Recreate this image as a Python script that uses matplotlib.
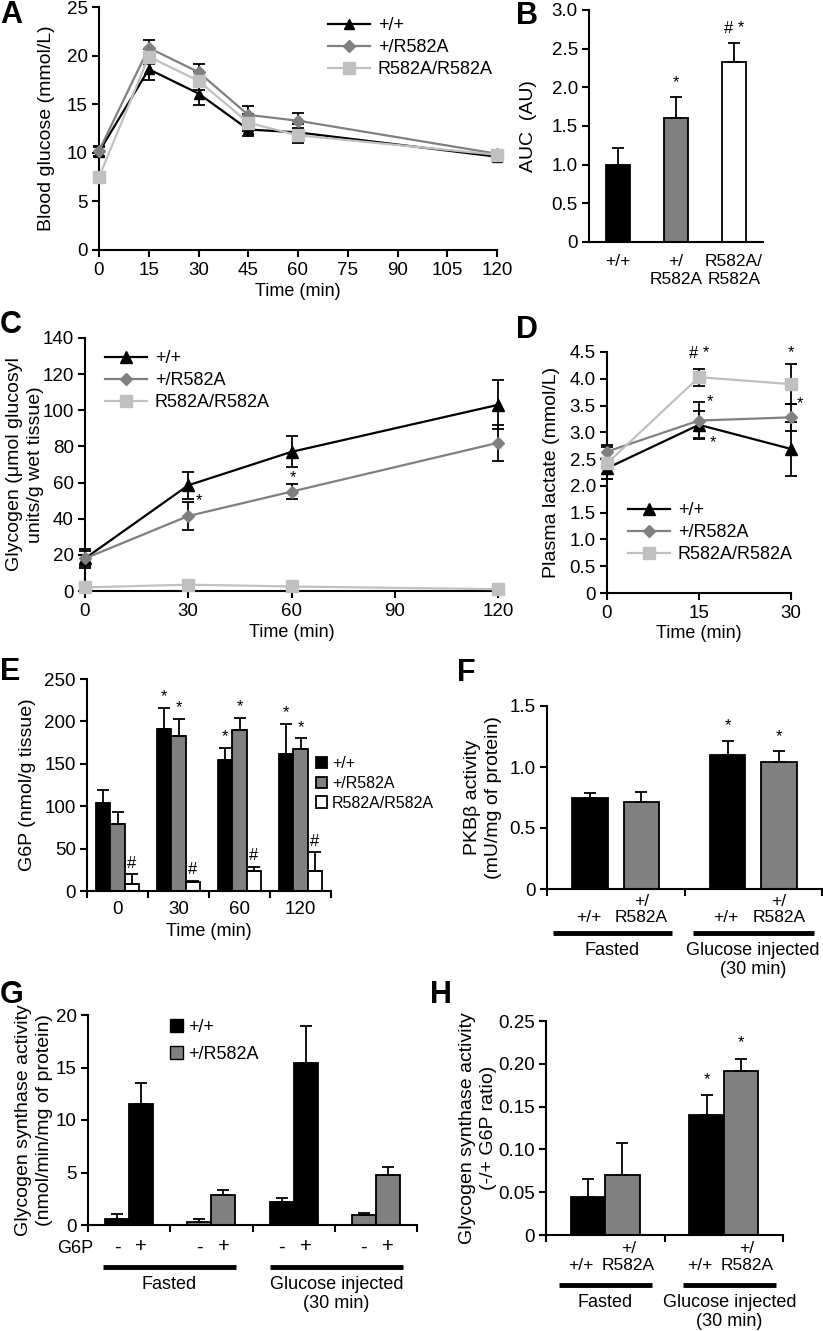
import numpy as np
import matplotlib
matplotlib.use("Agg")
import matplotlib.pyplot as plt
from matplotlib.patches import Patch

W, H = 823, 1331
BLACK = "#000000"
GRAY = "#808080"
LIGHT = "#c0c0c0"
TICK_FS = 13.5
XLAB_FS = 13
YLAB_FS = 14
LEG_FS = 13
CAT_FS = 12.5

GENOTYPES = ["+/+", "+/R582A", "R582A/R582A"]

# A: blood glucose during GTT
A_TIME = [0, 15, 30, 45, 60, 120]
A_WT = [10.1, 18.6, 16.1, 12.4, 12.1, 9.6]
A_WT_ERR = [0.5, 1.1, 1.2, 0.7, 0.9, 0.4]
A_HET = [10.2, 20.8, 18.3, 13.9, 13.3, 9.9]
A_HET_ERR = [0.5, 0.8, 0.8, 0.9, 0.8, 0.4]
A_HOM = [7.5, 19.9, 17.4, 13.1, 11.8, 9.8]
A_HOM_ERR = [0.4, 0.8, 0.9, 0.9, 0.8, 0.4]

# B: AUC
B_LABELS = ["+/+", "+/\nR582A", "R582A/\nR582A"]
B_AUC = [1.0, 1.6, 2.33]
B_ERR = [0.22, 0.27, 0.24]
B_MARKS = ["", "*", "# *"]

# C: glycogen
C_TIME = [0, 30, 60, 120]
C_WT = [18, 58.5, 77, 103]
C_WT_ERR = [5, 7.5, 8.5, 13.5]
C_HET = [18, 41.5, 55, 82]
C_HET_ERR = [4, 8, 4, 10]
C_HOM = [2, 3.5, 2.5, 1]
C_HOM_ERR = [1, 1, 1, 1]

# D: plasma lactate
D_TIME = [0, 15, 30]
D_WT = [2.33, 3.14, 2.69]
D_WT_ERR = [0.2, 0.25, 0.5]
D_HET = [2.64, 3.22, 3.28]
D_HET_ERR = [0.12, 0.35, 0.25]
D_HOM = [2.42, 4.03, 3.9]
D_HOM_ERR = [0.3, 0.16, 0.37]

# E: G6P
E_TIME = ["0", "30", "60", "120"]
E_WT = [104, 191, 154, 161]
E_WT_ERR = [15, 25, 15, 36]
E_HET = [79, 183, 190, 167]
E_HET_ERR = [14, 20, 14, 13]
E_HOM = [8.5, 11, 24, 24]
E_HOM_ERR = [11, 1, 4.5, 22]

# F: PKB beta activity
CONDITIONS = ["Fasted", "Glucose injected\n(30 min)"]
F_WT = [0.745, 1.10]
F_WT_ERR = [0.04, 0.115]
F_HET = [0.715, 1.04]
F_HET_ERR = [0.08, 0.09]
F_MARKS_WT = ["", "*"]
F_MARKS_HET = ["", "*"]

# G: glycogen synthase activity -/+ G6P
G_GROUP_GENO = ["+/+", "+/R582A", "+/+", "+/R582A"]
G_MINUS = [0.55, 0.25, 2.15, 0.95]
G_MINUS_ERR = [0.5, 0.3, 0.4, 0.2]
G_PLUS = [11.5, 2.85, 15.4, 4.8]
G_PLUS_ERR = [2.0, 0.45, 3.6, 0.7]

# H: activity ratio
H_WT = [0.044, 0.14]
H_WT_ERR = [0.021, 0.023]
H_HET = [0.07, 0.192]
H_HET_ERR = [0.037, 0.014]
H_MARKS = ["", "*"]

plt.rcParams["font.family"] = ["Liberation Sans", "DejaVu Sans"]
plt.rcParams["font.size"] = TICK_FS
plt.rcParams["axes.linewidth"] = 1.5

fig = plt.figure(figsize=(W / 100, H / 100), dpi=100)


def add_ax(l, t, r, b):
    ax = fig.add_axes([l / W, 1 - b / H, (r - l) / W, (b - t) / H])
    ax.spines[["top", "right"]].set_visible(False)
    ax.tick_params(direction="out", length=5, width=1.5, labelsize=TICK_FS)
    ax.tick_params(axis="y", pad=3)
    return ax


def ylab(ax, text, right_px, l, r):
    ax.set_ylabel(text, fontsize=YLAB_FS, multialignment="center", linespacing=1.3)
    ax.yaxis.set_label_coords((right_px - l) / (r - l), 0.5)


def letter(x, y, s):
    fig.text(x / W, 1 - y / H, s, fontsize=22, fontweight="bold", va="top", ha="left")


def noclip(container):
    for art in container.get_children():
        art.set_clip_on(False)


def line_series(ax, x, y, err, color, marker, ms, label):
    eb = ax.errorbar(x, y, yerr=err, fmt="none", ecolor=BLACK, elinewidth=1.3,
                     capsize=4, capthick=1.3, zorder=2)
    noclip(eb)
    ax.plot(x, y, color=color, marker=marker, ms=ms, lw=1.6, label=label,
            clip_on=False, zorder=3)


def line_legend(ax, x, y):
    ax.legend(loc="upper left", bbox_to_anchor=(x / W, 1 - y / H),
              bbox_transform=fig.transFigure, frameon=False, fontsize=LEG_FS,
              handlelength=2.3, handletextpad=0.45, labelspacing=0.28,
              borderpad=0, borderaxespad=0)


def up_bars(ax, x, h, err, w, color, **kw):
    return ax.bar(x, h, w, color=color, edgecolor=BLACK, linewidth=1.3,
                  yerr=[np.zeros(len(err)), err], capsize=4,
                  error_kw=dict(elinewidth=1.3, capthick=1.3), zorder=2, **kw)


def group_lines(ax, spans, y, texts, ty):
    tr = ax.get_xaxis_transform()
    for (x0, x1), t in zip(spans, texts):
        ax.plot([x0, x1], [y, y], color=BLACK, lw=3.5, transform=tr, clip_on=False,
                solid_capstyle="butt")
        ax.text((x0 + x1) / 2, ty, t, transform=tr, ha="center", va="top",
                fontsize=XLAB_FS, linespacing=1.15)


def cat_labels(ax, xs, labels, y):
    tr = ax.get_xaxis_transform()
    for xi, s in zip(xs, labels):
        ax.text(xi, y, s, transform=tr, ha="center", va="top", fontsize=CAT_FS,
                linespacing=1.1)


# ---------------- A ----------------
l, t, r, b = 99, 7, 497, 250
ax = add_ax(l, t, r, b)
line_series(ax, A_TIME, A_WT, A_WT_ERR, BLACK, "^", 7, GENOTYPES[0])
line_series(ax, A_TIME, A_HET, A_HET_ERR, GRAY, "D", 6, GENOTYPES[1])
line_series(ax, A_TIME, A_HOM, A_HOM_ERR, LIGHT, "s", 8, GENOTYPES[2])
ax.set_xlim(0, 120)
ax.set_ylim(0, 25)
ax.set_xticks(np.arange(0, 121, 15))
ax.set_yticks(np.arange(0, 26, 5))
ax.set_xlabel("Time (min)", fontsize=XLAB_FS, labelpad=3)
ylab(ax, "Blood glucose (mmol/L)", 55, l, r)
line_legend(ax, 328, 17)
letter(0, 0, "A")

# ---------------- B ----------------
l, t, r, b = 589, 10, 763, 242
ax = add_ax(l, t, r, b)
xb = np.arange(len(B_AUC))
up_bars(ax, xb, B_AUC, B_ERR, 0.43, [BLACK, GRAY, "white"])
for xi, v, e, m in zip(xb, B_AUC, B_ERR, B_MARKS):
    ax.text(xi, v + e + 0.1, m, ha="center", va="bottom", fontsize=12)
ax.set_xlim(-0.5, 2.5)
ax.set_ylim(0, 3)
ax.set_yticks(np.arange(0, 3.01, 0.5))
ax.set_yticklabels(["0"] + [f"{v:.1f}" for v in np.arange(0.5, 3.01, 0.5)])
ax.set_xticks(xb, B_LABELS)
ax.tick_params(axis="x", length=0, pad=9, labelsize=CAT_FS)
ylab(ax, "AUC  (AU)", 537, l, r)
letter(516, 1, "B")

# ---------------- C ----------------
l, t, r, b = 85, 338, 498, 591
ax = add_ax(l, t, r, b)
line_series(ax, C_TIME, C_WT, C_WT_ERR, BLACK, "^", 8, GENOTYPES[0])
line_series(ax, C_TIME, C_HET, C_HET_ERR, GRAY, "D", 6.5, GENOTYPES[1])
line_series(ax, C_TIME, C_HOM, C_HOM_ERR, LIGHT, "s", 8.5, GENOTYPES[2])
ax.text(33, 50, "*", ha="center", va="center", fontsize=12)
ax.text(60.5, 62.5, "*", ha="center", va="center", fontsize=12)
ax.set_xlim(0, 120)
ax.set_ylim(0, 140)
ax.set_xticks(np.arange(0, 121, 30))
ax.set_yticks(np.arange(0, 141, 20))
ax.set_xlabel("Time (min)", fontsize=XLAB_FS, labelpad=3)
ylab(ax, "Glycogen (\u03bcmol glucosyl\nunits/g wet tissue)", 44, l, r)
line_legend(ax, 105, 350)
letter(0, 310, "C")

# ---------------- D ----------------
l, t, r, b = 607, 352, 791, 593
ax = add_ax(l, t, r, b)
line_series(ax, D_TIME, D_WT, D_WT_ERR, BLACK, "^", 8, GENOTYPES[0])
line_series(ax, D_TIME, D_HET, D_HET_ERR, GRAY, "D", 6.5, GENOTYPES[1])
line_series(ax, D_TIME, D_HOM, D_HOM_ERR, LIGHT, "s", 9, GENOTYPES[2])
for xs, ys, s in [(15, 4.48, "# *"), (30, 4.48, "*"), (16.8, 3.57, "*"),
                  (31.5, 3.54, "*"), (17.3, 2.8, "*")]:
    ax.text(xs, ys, s, ha="center", va="center", fontsize=12)
ax.set_xlim(0, 30)
ax.set_ylim(0, 4.5)
ax.set_xticks(D_TIME)
ax.set_yticks(np.arange(0, 4.51, 0.5))
ax.set_yticklabels(["0"] + [f"{v:.1f}" for v in np.arange(0.5, 4.51, 0.5)])
ax.set_xlabel("Time (min)", fontsize=XLAB_FS, labelpad=2)
ylab(ax, "Plasma lactate (mmol/L)", 560, l, r)
line_legend(ax, 628, 502)
letter(516, 315, "D")

# ---------------- E ----------------
l, t, r, b = 87, 679, 331, 891
ax = add_ax(l, t, r, b)
xe = np.arange(len(E_TIME))
we = 0.23
for off, vals, errs, col, lab, mark in [(-we, E_WT, E_WT_ERR, BLACK, GENOTYPES[0], "*"),
                                        (0, E_HET, E_HET_ERR, GRAY, GENOTYPES[1], "*"),
                                        (we, E_HOM, E_HOM_ERR, "white", GENOTYPES[2], "#")]:
    up_bars(ax, xe + off, vals, errs, we, col, label=lab)
    for i, (v, e) in enumerate(zip(vals, errs)):
        if i == 0 and mark == "*":
            continue
        ax.text(xe[i] + off, v + e + 4, mark, ha="center", va="bottom", fontsize=12)
ax.set_xlim(-0.5, 3.5)
ax.set_ylim(0, 250)
ax.set_yticks(np.arange(0, 251, 50))
ax.set_xticks(np.arange(-0.5, 3.6, 1))
ax.set_xticklabels([])
ax.set_xticks(xe, E_TIME, minor=True)
ax.tick_params(axis="x", which="minor", length=0, pad=7, labelsize=TICK_FS)
ax.set_xlabel("Time (min)", fontsize=XLAB_FS, labelpad=4)
ylab(ax, "G6P (nmol/g tissue)", 36, l, r)
ax.legend(loc="upper left", bbox_to_anchor=(316 / W, 1 - 756 / H),
          bbox_transform=fig.transFigure, frameon=False, fontsize=11.5,
          handlelength=0.7, handleheight=0.7, handletextpad=0.3,
          labelspacing=0.3, borderpad=0, borderaxespad=0)
letter(0, 657, "E")

# ---------------- F ----------------
l, t, r, b = 547, 706, 822, 889
ax = add_ax(l, t, r, b)
xf = np.arange(len(CONDITIONS))
of, wf = 0.187, 0.26
up_bars(ax, xf - of, F_WT, F_WT_ERR, wf, BLACK)
up_bars(ax, xf + of, F_HET, F_HET_ERR, wf, GRAY)
for i in range(len(xf)):
    if F_MARKS_WT[i]:
        ax.text(xf[i] - of, F_WT[i] + F_WT_ERR[i] + 0.06, "*", ha="center", va="bottom", fontsize=12)
    if F_MARKS_HET[i]:
        ax.text(xf[i] + of, F_HET[i] + F_HET_ERR[i] + 0.06, "*", ha="center", va="bottom", fontsize=12)
ax.set_xlim(-0.5, 1.5)
ax.set_ylim(0, 1.5)
ax.set_yticks([0, 0.5, 1.0, 1.5])
ax.set_yticklabels(["0", "0.5", "1.0", "1.5"])
ax.set_xticks([-0.5, 0.5, 1.5])
ax.set_xticklabels([])
cat_labels(ax, np.ravel(np.column_stack([xf - of - 0.01, xf + of])),
           ["\n+/+", "+/\nR582A"] * 2, -0.025)
group_lines(ax, [(-0.46, 0.41), (0.56, 1.44)], -0.24, CONDITIONS, -0.29)
ylab(ax, "PKB\u03b2 activity\n(mU/mg of protein)", 502, l, r)
letter(457, 658, "F")

# ---------------- G ----------------
l, t, r, b = 88, 1015, 417, 1225
ax = add_ax(l, t, r, b)
xg = np.arange(len(G_GROUP_GENO))
og, wg = 0.146, 0.29
colors = [BLACK if g == "+/+" else GRAY for g in G_GROUP_GENO]
up_bars(ax, xg - og, G_MINUS, G_MINUS_ERR, wg, colors)
up_bars(ax, xg + og, G_PLUS, G_PLUS_ERR, wg, colors)
ax.set_xlim(-0.5, 3.5)
ax.set_ylim(0, 20)
ax.set_yticks(np.arange(0, 21, 5))
ax.set_xticks(np.arange(-0.5, 3.6, 1))
ax.set_xticklabels([])
posg = np.ravel(np.column_stack([xg - og, xg + og]))
ax.set_xticks(posg, ["-", "+"] * 4, minor=True)
ax.tick_params(axis="x", which="minor", length=0, pad=9, labelsize=TICK_FS + 1)
ax.text(0.015, -0.11, "G6P", transform=ax.transAxes, ha="right", va="center", fontsize=XLAB_FS)
group_lines(ax, [(-0.32, 1.30), (1.71, 3.33)], -0.2, CONDITIONS, -0.245)
ylab(ax, "Glycogen synthase activity\n(nmol/min/mg of protein)", 53, l, r)
ax.legend(handles=[Patch(facecolor=BLACK, edgecolor=BLACK, label="+/+"),
                   Patch(facecolor=GRAY, edgecolor=BLACK, label="+/R582A")],
          loc="upper left", bbox_to_anchor=(170 / W, 1 - 1019 / H),
          bbox_transform=fig.transFigure, frameon=False, fontsize=LEG_FS,
          handlelength=0.7, handleheight=0.7, handletextpad=0.3,
          labelspacing=0.55, borderpad=0, borderaxespad=0)
letter(0, 980, "G")

# ---------------- H ----------------
l, t, r, b = 546, 1021, 783, 1235
ax = add_ax(l, t, r, b)
xh = np.arange(len(CONDITIONS))
oh, wh = 0.145, 0.29
up_bars(ax, xh - oh, H_WT, H_WT_ERR, wh, BLACK)
up_bars(ax, xh + oh, H_HET, H_HET_ERR, wh, GRAY)
for i in range(len(xh)):
    if H_MARKS[i]:
        ax.text(xh[i] - oh, H_WT[i] + H_WT_ERR[i] + 0.01, "*", ha="center", va="bottom", fontsize=12)
        ax.text(xh[i] + oh, H_HET[i] + H_HET_ERR[i] + 0.01, "*", ha="center", va="bottom", fontsize=12)
ax.set_xlim(-0.5, 1.5)
ax.set_ylim(0, 0.25)
ax.set_yticks(np.arange(0, 0.251, 0.05))
ax.set_yticklabels(["0", "0.05", "0.10", "0.15", "0.20", "0.25"])
ax.set_xticks([-0.5, 0.5, 1.5])
ax.set_xticklabels([])
cat_labels(ax, np.ravel(np.column_stack([xh - oh - 0.06, xh + oh + 0.05])),
           ["\n+/+", "+/\nR582A"] * 2, -0.03)
group_lines(ax, [(-0.39, 0.395), (0.656, 1.44)], -0.234, CONDITIONS, -0.275)
ylab(ax, "Glycogen synthase activity\n(-/+ G6P ratio)", 497, l, r)
letter(430, 980, "H")

fig.savefig("out.png", dpi=100)
